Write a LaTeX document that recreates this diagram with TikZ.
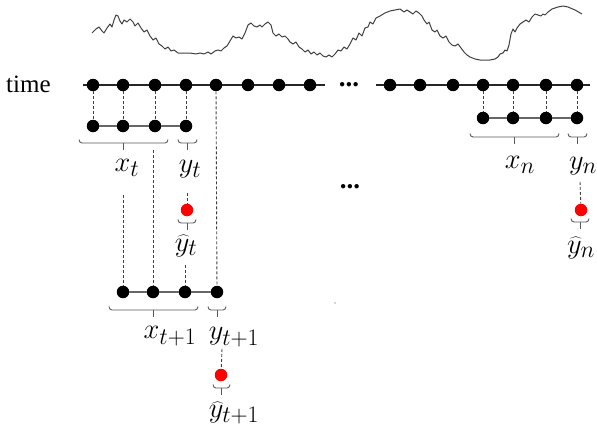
\documentclass[tikz,border=0pt]{standalone}
\usepackage{fontspec}
\setmainfont{Liberation Serif}

% bracket under a group: left end, right end, tick, height
\newcommand{\tbrk}[4]{%
  \draw[brk] (#1,#4-3.5) to[out=-90,in=180] (#1+3,#4) -- (#2-3,#4) to[out=0,in=-90] (#2,#4-3.5);
  \draw[brk] (#3,#4) -- (#3,#4+6.5);}

\begin{document}
\begin{tikzpicture}[x=1pt, y=-1pt,
  blackdot/.style={circle, fill=black, inner sep=0pt, minimum size=12.5pt},
  reddot/.style={circle, fill=red, inner sep=0pt, minimum size=12.5pt},
  rowline/.style={line width=1.3pt, black!85},
  subline/.style={line width=1.3pt, black!60},
  guide/.style={line width=0.9pt, black!75, dash pattern=on 3pt off 2pt},
  brk/.style={line width=0.9pt, black!65},
  lbl/.style={font=\fontsize{24.88}{30}\selectfont, inner sep=0pt, scale=1.14}]
  \useasboundingbox (0,0) rectangle (597,431);

  % 1. signal
  \draw[line width=1pt, black!75, line join=round] plot coordinates {
    (92,33) (96,29) (99,27) (102,31) (104,33) (107,28) (110,24) (112,27) (114,20) (116,15)
    (118,16) (120,21) (122,24) (124,20) (127,22) (130,19) (133,22) (135,26) (138,23) (141,28)
    (144,32) (147,30) (150,36) (153,40) (156,38) (159,44) (162,46) (165,49) (168,47) (171,51)
    (174,50) (178,53) (184,53) (190,53) (196,54) (200,53) (204,54) (208,52) (211,54) (215,51)
    (218,50) (221,51) (224,48) (227,46) (230,41) (233,36) (236,38) (239,37) (242,39) (245,33)
    (248,25) (251,23) (254,26) (257,27) (260,25) (262,27) (265,24) (268,22) (271,25) (273,33)
    (276,36) (279,34) (282,37) (285,36) (288,39) (290,42) (293,44) (296,42) (299,47) (302,49)
    (305,52) (308,50) (311,54) (314,52) (317,55) (320,53) (323,56) (326,57) (329,55) (332,57)
    (335,54) (338,50) (341,51) (344,47) (347,49) (350,44) (353,38) (356,40) (359,33) (362,36)
    (365,28) (368,27) (370,22) (373,24) (376,18) (380,16) (385,13) (390,11) (395,10) (400,9)
    (404,12) (407,10) (410,12) (413,14) (416,11) (419,13) (422,16) (424,20) (427,24) (429,22)
    (432,30) (435,32) (437,30) (440,36) (443,38) (446,36) (449,42) (452,45) (455,46) (458,44)
    (461,48) (464,52) (467,55) (470,57) (475,59) (480,60) (490,60) (495,59) (498,57) (500,54)
    (503,53) (505,50) (507,51) (509,45) (511,34) (513,29) (515,32) (517,28) (520,24) (523,22)
    (526,20) (529,22) (532,17) (535,14) (538,15) (541,16) (543,14) (545,15) (548,12) (552,9)
    (558,7) (563,6) (568,7) (575,10) (582,14)};

  % 2. time axis
  \node[font=\fontsize{25}{30}\selectfont, anchor=west, inner sep=0pt] (timelbl) at (6,84) {time};
  \foreach \x [count=\i] in {93,123,155,186,216,248,279,310}
    \node[blackdot] (t\i) at (\x,85) {};
  \foreach \x [count=\i] in {390,420,453,483,513,546,577}
    \node[blackdot] (r\i) at (\x,85) {};
  \coordinate (l0) at (83,85);
  \coordinate (l9) at (325,85);
  \coordinate (r0) at (376,85);
  \coordinate (r8) at (590,85);
  \draw[rowline] (l0) -- (t1) (t8) -- (l9) (r0) -- (r1) (r7) -- (r8);
  \foreach \i [count=\j from 2] in {1,...,7}
    \draw[rowline] (t\i) -- (t\j);
  \foreach \i [count=\j from 2] in {1,...,6}
    \draw[rowline] (r\i) -- (r\j);
  \node[font=\fontsize{27}{30}\selectfont\bfseries, inner sep=0pt] (dotstop) at (349,85) {...};
  \node[font=\fontsize{27}{30}\selectfont\bfseries, inner sep=0pt] (dotsmid) at (350,187) {...};

  % 3. window t
  \foreach \x [count=\i] in {93,123,155,186}
    \node[blackdot] (a\i) at (\x,126) {};
  \foreach \i [count=\j from 2] in {1,...,3}
    \draw[subline] (a\i) -- (a\j);
  \foreach \i in {1,...,4}
    \draw[guide] (t\i) -- (a\i);
  \tbrk{79}{168}{123}{143}
  \tbrk{178}{197}{187}{143}
  \node[lbl] (xt) at (127,168) {$x_t$};
  \node[lbl] (yt) at (190,169) {$y_t$};
  \node[reddot] (p1) at (187,210) {};
  \coordinate (g4) at (187,193);
  \draw[guide] (g4) -- (p1);
  \tbrk{178}{196}{187}{223}
  \node[lbl] (yht) at (186,246) {$\widehat{y}_t$};

  % 4. window t+1
  \foreach \x [count=\i] in {123,153,185,217}
    \node[blackdot] (c\i) at (\x,292) {};
  \foreach \i [count=\j from 2] in {1,...,3}
    \draw[subline] (c\i) -- (c\j);
  \coordinate (g1) at (123,195);
  \coordinate (g2) at (153,150);
  \coordinate (g3) at (185,265);
  \draw[guide] (g1) -- (c1);
  \draw[guide] (g2) -- (c2);
  \draw[guide] (g3) -- (c3);
  \draw[guide] (t5) -- (c4);
  \tbrk{109}{198}{153}{310}
  \tbrk{208}{226}{217}{310}
  \node[lbl] (xtt) at (170,336) {$x_{t+1}$};
  \node[lbl] (ytt) at (234,337) {$y_{t+1}$};
  \node[reddot] (p2) at (221,375) {};
  \coordinate (g5) at (222,349);
  \draw[guide] (g5) -- (p2);
  \tbrk{213}{230}{221}{388}
  \node[lbl] (yhtt) at (234,413) {$\widehat{y}_{t+1}$};
  \fill[black!70] (335,303) circle (0.7);

  % 5. window n
  \foreach \x [count=\i] in {483,513,546,577}
    \node[blackdot] (b\i) at (\x,118) {};
  \foreach \i [count=\j from 2] in {1,...,3}
    \draw[subline] (b\i) -- (b\j);
  \foreach \i [evaluate=\i as \k using int(\i+3)] in {1,...,4}
    \draw[guide] (r\k) -- (b\i);
  \tbrk{470}{559}{514}{137}
  \tbrk{568}{587}{577}{137}
  \node[lbl] (xn) at (520,165) {$x_n$};
  \node[lbl] (yn) at (583,166) {$y_n$};
  \node[reddot] (p3) at (581,210) {};
  \coordinate (g6) at (580,182);
  \draw[guide] (g6) -- (p3);
  \tbrk{571}{589}{580}{222}
  \node[lbl] (yhn) at (581,248) {$\widehat{y}_n$};
\end{tikzpicture}
\end{document}
